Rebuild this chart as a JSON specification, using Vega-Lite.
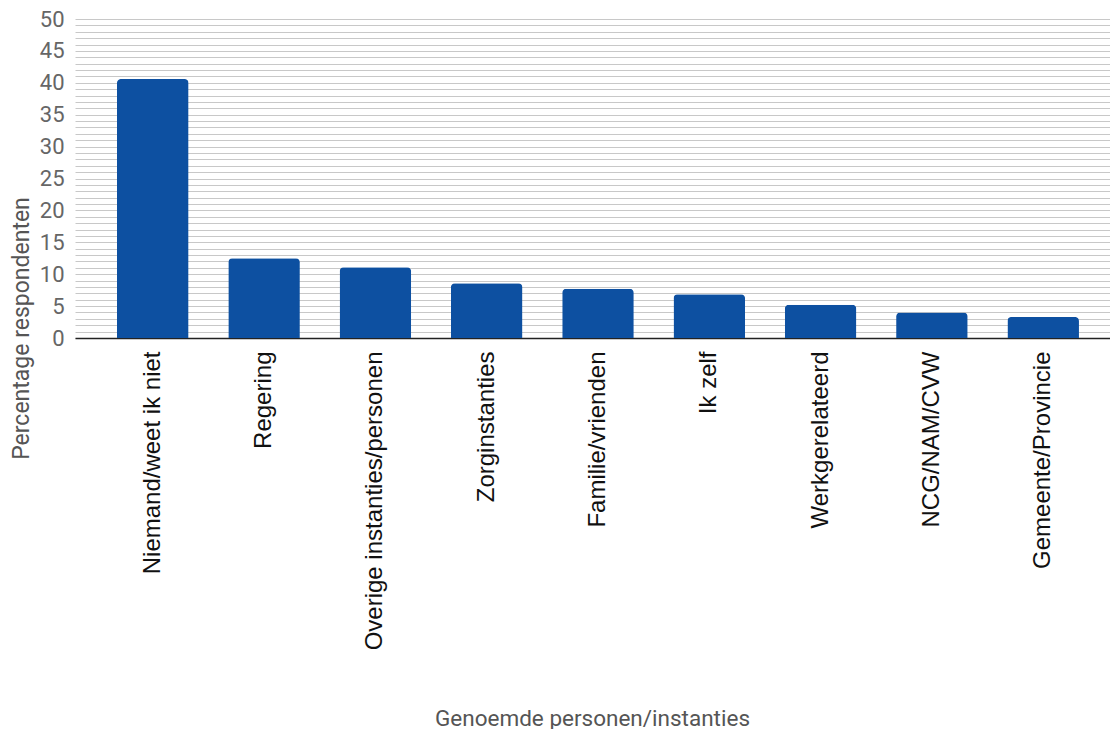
{
  "$schema": "https://vega.github.io/schema/vega-lite/v6.json",
  "autosize": {"type": "none"},
  "padding": {"left": 75, "top": 19, "right": 0, "bottom": 391},
  "width": 1035,
  "height": 319,
  "background": "white",
  "data": {"values": [
    {"cat": "Niemand/weet ik niet", "pct": 40.6},
    {"cat": "Regering", "pct": 12.5},
    {"cat": "Overige instanties/personen", "pct": 11.1},
    {"cat": "Zorginstanties", "pct": 8.6},
    {"cat": "Familie/vrienden", "pct": 7.7},
    {"cat": "Ik zelf", "pct": 6.85},
    {"cat": "Werkgerelateerd", "pct": 5.2},
    {"cat": "NCG/NAM/CVW", "pct": 4.0},
    {"cat": "Gemeente/Provincie", "pct": 3.3}
  ]},
  "config": {"view": {"stroke": null}},
  "mark": {"type": "bar", "color": "#0D50A1", "cornerRadiusTopLeft": 4, "cornerRadiusTopRight": 4},
  "encoding": {
    "x": {
      "field": "cat", "type": "nominal", "sort": null,
      "scale": {"paddingInner": 0.357, "paddingOuter": 0.328, "align": 0.575},
      "axis": {
        "title": "Genoemde personen/instanties",
        "titleFont": "Roboto", "titleFontSize": 22.5, "titleFontWeight": "normal", "titleColor": "#555555",
        "titleX": 517, "titleY": 380, "titleBaseline": "middle", "titleAlign": "center",
        "labelAngle": -90, "labelFont": "Liberation Sans", "labelFontSize": 24, "labelColor": "#111111",
        "labelPadding": 13, "labelAlign": "right", "labelBaseline": "middle", "labelLimit": 0,
        "ticks": false, "domainColor": "#222222", "domainWidth": 1.5, "grid": false
      }
    },
    "y": {
      "field": "pct", "type": "quantitative",
      "scale": {"domain": [0, 50], "nice": false},
      "axis": {
        "title": "Percentage respondenten",
        "titleFont": "Roboto", "titleFontSize": 23, "titleFontWeight": "normal", "titleColor": "#555555",
        "titleX": -54, "titleY": 309, "titleAngle": -90, "titleBaseline": "middle", "titleAlign": "center",
        "values": [0,1,2,3,4,5,6,7,8,9,10,11,12,13,14,15,16,17,18,19,20,21,22,23,24,25,26,27,28,29,30,31,32,33,34,35,36,37,38,39,40,41,42,43,44,45,46,47,48,49,50],
        "labelExpr": "datum.value % 5 === 0 ? datum.label : ''",
        "labelFont": "Roboto", "labelFontSize": 22, "labelColor": "#666666", "labelPadding": 11,
        "ticks": false, "domain": false,
        "grid": true, "gridColor": "#c8c8c8", "gridWidth": 1
      }
    }
  }
}
